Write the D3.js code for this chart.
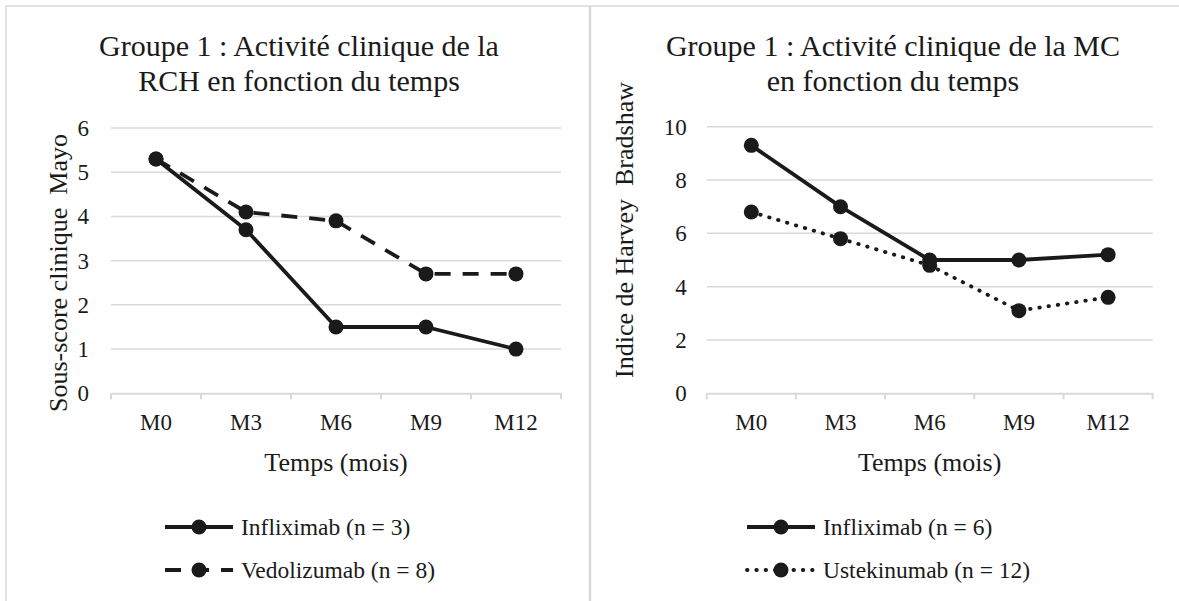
<!DOCTYPE html>
<html><head><meta charset="utf-8">
<script src="https://cdn.jsdelivr.net/npm/d3@7"></script>
<style>
html,body{margin:0;padding:0;background:#fff;}
svg{display:block;}
</style></head>
<body>
<svg id="chart" width="1179" height="601"></svg>
<script>
// ---- data ----
const months = ["M0","M3","M6","M9","M12"];
const rchTitle = ["Groupe 1 : Activité clinique de la","RCH en fonction du temps"];
const rchYTitle = "Sous-score clinique  Mayo";
const rchTicks = [0,1,2,3,4,5,6];
const rchInfliximab = [5.3,3.7,1.5,1.5,1.0];
const rchVedolizumab = [5.3,4.1,3.9,2.7,2.7];
const rchNames = ["Infliximab (n = 3)","Vedolizumab (n = 8)"];

const mcTitle = ["Groupe 1 : Activité clinique de la MC","en fonction du temps"];
const mcYTitle = "Indice de Harvey  Bradshaw";
const mcTicks = [0,2,4,6,8,10];
const mcInfliximab = [9.3,7.0,5.0,5.0,5.2];
const mcUstekinumab = [6.8,5.8,4.8,3.1,3.6];
const mcNames = ["Infliximab (n = 6)","Ustekinumab (n = 12)"];
const xTitle = "Temps (mois)";

const FONT = "Liberation Serif";
const svg = d3.select("#chart");
const grid = "#d9d9d9", ink = "#1a1a1a";

// frame borders
svg.append("line").attr("x1",6).attr("x2",1179).attr("y1",6).attr("y2",6).attr("stroke",grid).attr("stroke-width",1.5);
svg.append("line").attr("x1",6).attr("x2",6).attr("y1",6).attr("y2",601).attr("stroke",grid).attr("stroke-width",1.5);
svg.append("line").attr("x1",590).attr("x2",590).attr("y1",6).attr("y2",601).attr("stroke",grid).attr("stroke-width",2.5);

function drawChart(cfg){
  const g = svg.append("g");
  const x = d3.scaleBand().domain(months).range([cfg.x0,cfg.x1]);
  const y = d3.scaleLinear().domain([0,cfg.ymax]).range([cfg.y0,cfg.y1]);

  // title
  const t = g.append("text").attr("text-anchor","middle").attr("font-family",FONT).attr("font-size",30).attr("fill",ink);
  cfg.title.forEach((s,i)=>t.append("tspan").attr("x",cfg.titleX).attr("y",cfg.titleY + i*35).text(s));

  // gridlines
  g.selectAll(".gl").data(cfg.ticks.filter(d=>d>0)).join("line")
    .attr("x1",cfg.x0).attr("x2",cfg.x1).attr("y1",d=>y(d)).attr("y2",d=>y(d))
    .attr("stroke",grid).attr("stroke-width",1.5);

  // y axis labels
  const ya = g.append("g").attr("transform",`translate(${cfg.x0},0)`)
    .call(d3.axisLeft(y).tickValues(cfg.ticks).tickFormat(d3.format("d")).tickSize(0).tickPadding(cfg.yPad));
  ya.select(".domain").remove();
  ya.selectAll("text").attr("font-size",23).attr("fill",ink).attr("font-family",FONT);

  // x axis
  const xa = g.append("g").attr("transform",`translate(0,${cfg.y0})`)
    .call(d3.axisBottom(x).tickSize(0).tickPadding(20));
  xa.select(".domain").attr("stroke",grid).attr("stroke-width",2);
  xa.selectAll("text").attr("font-size",23).attr("fill",ink).attr("font-family",FONT);
  // boundary tick marks
  const bounds = months.map(m=>x(m)).concat([cfg.x1]);
  g.selectAll(".bt").data(bounds).join("line")
    .attr("x1",d=>d).attr("x2",d=>d).attr("y1",cfg.y0).attr("y2",cfg.y0+6)
    .attr("stroke",grid).attr("stroke-width",2);

  // axis titles
  g.append("text").attr("x",(cfg.x0+cfg.x1)/2).attr("y",cfg.y0+78).attr("text-anchor","middle")
    .attr("font-family",FONT).attr("font-size",26).attr("fill",ink).text(xTitle);
  g.append("text").attr("transform",`translate(${cfg.yTitleX},${cfg.yTitleY}) rotate(-90)`)
    .attr("text-anchor","middle").attr("font-family",FONT).attr("font-size",26).attr("fill",ink)
    .attr("xml:space","preserve").style("white-space","pre").text(cfg.yTitle);

  // series
  const line = d3.line().x((d,i)=>x(months[i])+x.bandwidth()/2).y(d=>y(d));
  cfg.series.forEach(s=>{
    g.append("path").datum(s.values).attr("d",line).attr("fill","none")
      .attr("stroke",ink).attr("stroke-width",3.8).attr("stroke-dasharray",s.dash)
      .attr("stroke-linecap",s.cap).attr("stroke-linejoin","round");
    g.selectAll(null).data(s.values).join("circle")
      .attr("cx",(d,i)=>x(months[i])+x.bandwidth()/2).attr("cy",d=>y(d)).attr("r",7.5).attr("fill",ink);
  });

  // legend
  cfg.series.forEach((s,i)=>{
    const ly = cfg.legY + i*43;
    g.append("line").attr("x1",cfg.legX).attr("x2",cfg.legX+68).attr("y1",ly).attr("y2",ly)
      .attr("stroke",ink).attr("stroke-width",3.8).attr("stroke-dasharray",s.dash).attr("stroke-linecap",s.cap);
    g.append("circle").attr("cx",cfg.legX+34).attr("cy",ly).attr("r",7.5).attr("fill",ink);
    g.append("text").attr("x",cfg.legX+76).attr("y",ly+8).attr("font-family",FONT).attr("font-size",23.5).attr("fill",ink).text(s.name);
  });
}

drawChart({x0:111,x1:561,y0:393.3,y1:128,ymax:6,ticks:rchTicks,title:rchTitle,titleX:299,titleY:56,
  yTitle:rchYTitle,yTitleX:67,yTitleY:273,yPad:22,legX:165,legY:527,
  series:[{values:rchInfliximab,name:rchNames[0],dash:null,cap:"butt"},
          {values:rchVedolizumab,name:rchNames[1],dash:"16,12",cap:"butt"}]});
drawChart({x0:706.7,x1:1152.7,y0:393.3,y1:126.7,ymax:10,ticks:mcTicks,title:mcTitle,titleX:893,titleY:56,
  yTitle:mcYTitle,yTitleX:633,yTitleY:230,yPad:20,legX:747,legY:527,
  series:[{values:mcInfliximab,name:mcNames[0],dash:null,cap:"butt"},
          {values:mcUstekinumab,name:mcNames[1],dash:"0.5,8.8",cap:"round"}]});
</script>
</body></html>
